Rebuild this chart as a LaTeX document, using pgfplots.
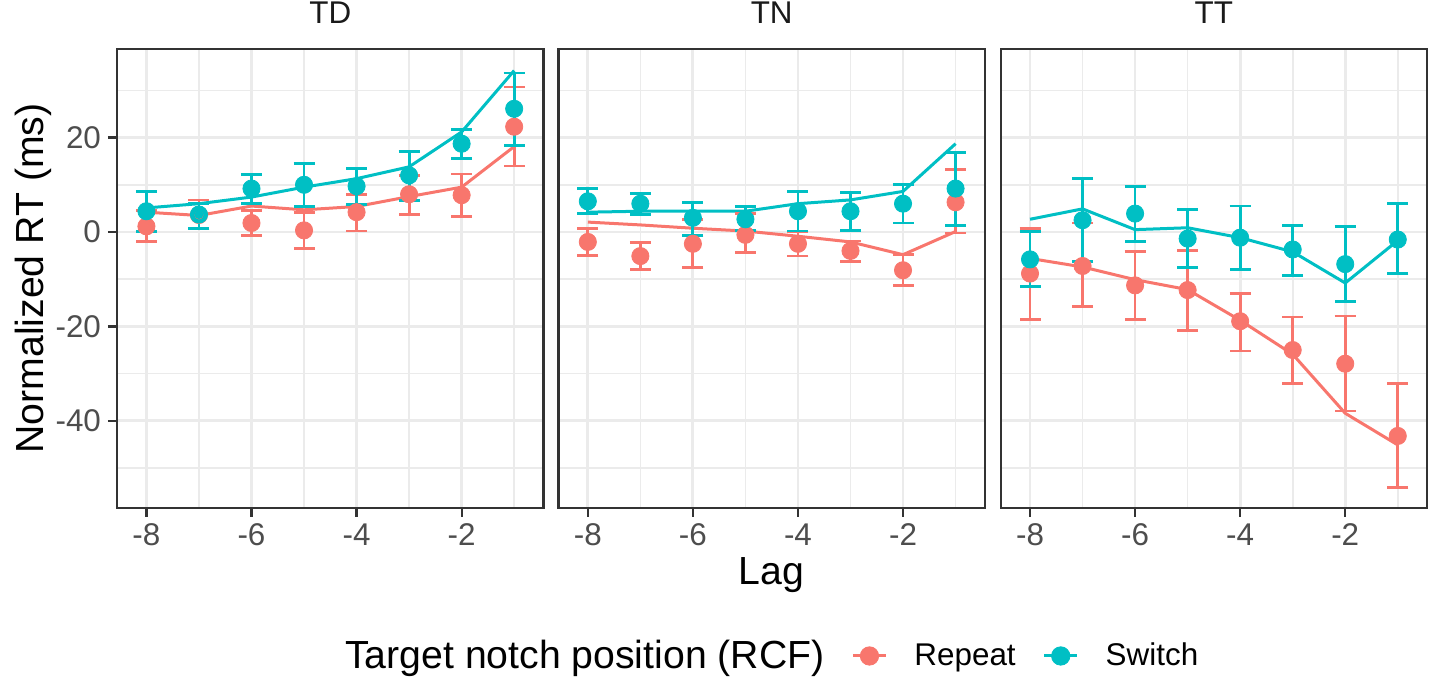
\documentclass[border=0pt]{standalone}
\usepackage{fontspec}
\setmainfont{Liberation Sans}
\usepackage{pgfplots}
\usepackage{pgfplotstable}
\pgfplotsset{compat=1.18}
\usepackage{xcolor}
\definecolor{rep}{HTML}{F8766D}
\definecolor{swi}{HTML}{00BFC4}
\definecolor{gridc}{HTML}{EBEBEB}
\definecolor{grey20}{HTML}{333333}
\definecolor{grey30}{HTML}{4D4D4D}
\definecolor{grey10}{HTML}{1A1A1A}

% x, repeat (mean, hi, lo, fit), switch (mean, hi, lo, fit)
\pgfplotstableread{
x  r     rhi   rlo   rfit  s     shi   slo   sfit
-8 1.2   4.5   -2.0  4.2   4.4   8.6   0.1   5.1
-7 3.6   6.8   0.7   3.5   3.7   6.0   0.7   6.0
-6 1.9   4.6   -0.7  5.5   9.2   12.1  6.0   7.4
-5 0.35  4.1   -3.5  4.7   10.0  14.5  5.4   9.5
-4 4.2   7.9   0.2   5.4   9.7   13.5  5.8   11.3
-3 8.0   12.0  3.7   7.5   12.0  17.1  6.7   13.8
-2 7.8   12.3  3.2   9.5   18.7  21.7  15.5  21.2
-1 22.3  30.7  14.0  18.1  26.1  33.7  18.3  34.2
}\tdtab
\pgfplotstableread{
x  r     rhi   rlo   rfit  s     shi   slo   sfit
-8 -2.1  0.7   -4.9  2.1   6.5   9.2   4.0   4.2
-7 -5.1  -2.3  -7.9  1.5   6.0   8.1   3.7   4.4
-6 -2.5  2.6   -7.6  0.8   3.0   6.2   -0.7  4.4
-5 -0.6  3.9   -4.4  0.2   2.7   5.4   0.4   4.4
-4 -2.5  0.1   -5.1  -0.9  4.4   8.6   0.2   6.0
-3 -4.0  -1.9  -6.3  -2.1  4.4   8.3   0.4   6.8
-2 -8.1  -4.8  -11.4 -4.8  6.0   10.1  1.9   8.6
-1 6.3   13.2  -0.2  0.1   9.2   16.8  1.4   18.7
}\tntab
\pgfplotstableread{
x  r     rhi   rlo   rfit  s     shi   slo   sfit
-8 -8.8  0.7   -18.5 -5.6  -5.8  0.1   -11.5 2.7
-7 -7.2  1.9   -15.7 -7.4  2.5   11.4  -6.3  4.9
-6 -11.3 -4.1  -18.5 -10.1 3.9   9.7   -2.0  0.5
-5 -12.3 -4.0  -20.8 -12.2 -1.4  4.7   -7.5  0.9
-4 -18.9 -13.0 -25.2 -18.7 -1.2  5.5   -8.0  -1.2
-3 -25.0 -18.0 -32.1 -25.9 -3.7  1.4   -9.2  -4.2
-2 -27.9 -17.8 -37.9 -38.4 -6.8  1.1   -14.7 -10.8
-1 -43.2 -32.1 -54.1 -45.1 -1.6  6.0   -8.8  -1.8
}\tttab

\newcommand{\smallfont}{\fontsize{15.7}{18}\selectfont}
\newcommand{\bigfont}{\fontsize{19.6}{23}\selectfont}

\pgfplotsset{
  panel/.style={
    width=213.3pt, height=229.2pt, scale only axis, anchor=south west,
    xmin=-8.56, xmax=-0.44, ymin=-58.4, ymax=38.7,
    xtick={-8,-6,-4,-2}, minor xtick={-7,-5,-3,-1},
    ytick={-40,-20,0,20}, minor ytick={-50,-30,-10,10,30},
    grid=both,
    major grid style={draw=gridc, line width=1.4pt},
    minor grid style={draw=gridc, line width=0.8pt},
    axis line style={draw=grey20, line width=1.1pt},
    tick align=outside, major tick length=4.5pt, minor tick length=0pt,
    tick style={draw=grey20, line width=1.1pt},
    xtick pos=bottom, ytick pos=left,
    /pgf/number format/assume math mode=true,
    tick label style={font=\smallfont, text=grey30},
    title style={at={(0.5,1)}, anchor=base, yshift=7pt, font=\smallfont, text=grey10},
  },
  fit/.style={color=#1, line width=1.5pt, mark=none, forget plot},
  pts/.style={color=#1, only marks, mark=*, mark size=4.3pt, forget plot},
  bars/.style={color=#1, only marks, mark=none, forget plot,
    error bars/.cd, y dir=both, y explicit,
    error bar style={line width=1.4pt, solid},
    error mark options={rotate=90, line width=1.4pt, mark size=5.25pt, solid}},
}

% draw one facet from a table
\newcommand{\facet}[1]{%
  \addplot[fit=rep] table[x=x, y=rfit] {#1};
  \addplot[fit=swi] table[x=x, y=sfit] {#1};
  \addplot[pts=rep] table[x=x, y=r] {#1};
  \addplot[pts=swi] table[x=x, y=s] {#1};
  \addplot[bars=rep] table[x=x, y=r,
    y error plus expr=\thisrow{rhi}-\thisrow{r},
    y error minus expr=\thisrow{r}-\thisrow{rlo}] {#1};
  \addplot[bars=swi] table[x=x, y=s,
    y error plus expr=\thisrow{shi}-\thisrow{s},
    y error minus expr=\thisrow{s}-\thisrow{slo}] {#1};
}

\begin{document}
\begin{tikzpicture}
\path[use as bounding box] (0,0) rectangle (716pt,338pt);

\begin{axis}[panel, at={(58.5pt,84.15pt)}, title={TD},
  ylabel={Normalized RT (ms)},
  every axis y label/.style={at={(axis description cs:-0.197,0.5)}, anchor=center, rotate=90, font=\bigfont},
]
\facet{\tdtab}
\end{axis}

\begin{axis}[panel, at={(279.2pt,84.15pt)}, title={TN},
  yticklabels={}, ymajorticks=false,
  xlabel={Lag},
  every axis x label/.style={at={(axis description cs:0.5,-0.1686)}, anchor=base, font=\bigfont},
  legend style={at={(0.4684,-0.3235)}, anchor=center, draw=none, fill=none,
    legend columns=-1, font=\smallfont,
    nodes={inner sep=0pt},
    /tikz/every odd column/.append style={column sep=13.5pt},
    /tikz/every even column/.append style={column sep=13.5pt}},
  legend image code/.code={
    \draw[line width=1.5pt] (0pt,0pt) -- (16.5pt,0pt);
    \fill (8.25pt,0pt) circle (4.6pt);
  },
]
\facet{\tntab}
\addlegendimage{empty legend}
\addlegendentry[font=\bigfont]{Target notch position (RCF)}
\addlegendimage{color=rep}
\addlegendentry{Repeat}
\addlegendimage{color=swi}
\addlegendentry{Switch}
\end{axis}

\begin{axis}[panel, at={(500.3pt,84.15pt)}, title={TT},
  yticklabels={}, ymajorticks=false,
]
\facet{\tttab}
\end{axis}
\end{tikzpicture}
\end{document}
